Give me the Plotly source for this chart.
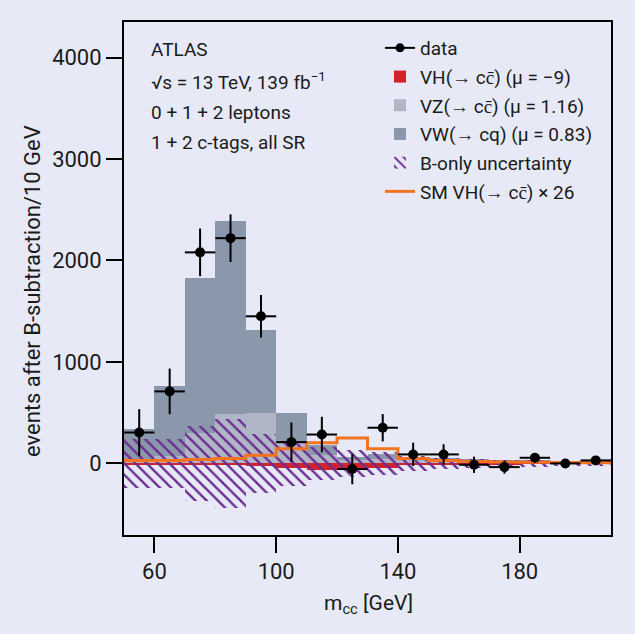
import plotly.graph_objects as go

# ---- data ----
bin_centers = [55, 65, 75, 85, 95, 105, 115, 125, 135, 145, 155, 165, 175, 185, 195, 205]
data_vals = [305, 710, 2080, 2220, 1450, 210, 285, -55, 352, 89, 89, -13, -36, 56, 0, 30]
data_err = [230, 225, 235, 235, 210, 195, 175, 150, 135, 115, 100, 80, 65, 45, 35, 30]
vz_vals = [30, 70, 300, 485, 495, 200, 80, 35, 45, 30, 25, 20, 15, 12, 10, 8]
vw_vals = [310, 698, 1529, 1902, 822, 295, 97, 27, 50, 35, 30, 20, 20, 18, 15, 12]
vh_vals = [-12, -12, -14, -18, -25, -40, -62, -68, -45, -18, -12, -8, -6, -5, -4, -3]
bonly_unc = [245, 245, 370, 440, 295, 220, 165, 135, 115, 70, 55, 40, 35, 30, 28, 25]
sm_vh26 = [30, 30, 40, 50, 80, 146, 205, 250, 144, 50, 30, 20, 15, 12, 10, 8]
bin_width = 10
x_ticks = [60, 100, 140, 180]
y_ticks = [0, 1000, 2000, 3000, 4000]

FONT = "Roboto"
TXT = "#1a1a1a"
BG = "#e7eaf6"
C_VW = "#8b97ab"
C_VZ = "#b0b6c6"
C_VH = "#d42029"
C_SM = "#f47321"
C_HATCH = "#6b2c91"

L, R, T, B = 124, 24, 22, 99
W, H = 635, 634
PW, PH = W - L - R, H - T - B

def px_x(x):
    return (x - L) / PW

def px_y(y):
    return (H - B - y) / PH

fig = go.Figure()

# stacked backgrounds
fig.add_trace(go.Bar(x=bin_centers, y=vz_vals, base=0, width=bin_width,
                     marker=dict(color=C_VZ, line=dict(width=0)),
                     name="VZ(\u2192 cc\u0304) (\u03bc = 1.16)", legendrank=3, legendgroup="g3"))
fig.add_trace(go.Bar(x=bin_centers, y=vw_vals, base=vz_vals, width=bin_width,
                     marker=dict(color=C_VW, line=dict(width=0)),
                     name="VW(\u2192 cq) (\u03bc = 0.83)", legendrank=4, legendgroup="g4"))
fig.add_trace(go.Bar(x=bin_centers, y=vh_vals, base=0, width=bin_width,
                     marker=dict(color=C_VH, line=dict(width=0)),
                     name="VH(\u2192 cc\u0304) (\u03bc = \u22129)", legendrank=2, legendgroup="g2"))

# SM VH x 26 step line
edges = [c - bin_width / 2 for c in bin_centers] + [bin_centers[-1] + bin_width / 2]
fig.add_trace(go.Scatter(x=edges, y=sm_vh26 + [sm_vh26[-1]], mode="lines",
                         line=dict(color=C_SM, width=3, shape="hv"),
                         name="SM VH(\u2192 cc\u0304) \u00d7 26", legendrank=6, legendgroup="g6"))

# B-only uncertainty hatch
fig.add_trace(go.Bar(x=bin_centers, y=[2 * u for u in bonly_unc],
                     base=[-u for u in bonly_unc], width=bin_width,
                     marker=dict(color="rgba(0,0,0,0)", line=dict(width=0),
                                 pattern=dict(shape="\\", fgcolor=C_HATCH, bgcolor="rgba(0,0,0,0)",
                                              size=8, solidity=0.3, fillmode="replace")),
                     name="B-only uncertainty", legendrank=5, legendgroup="g5"))

# data
fig.add_trace(go.Scatter(x=bin_centers, y=data_vals, mode="markers",
                         marker=dict(color="black", size=10),
                         error_y=dict(type="data", array=data_err, color="black", thickness=2, width=0),
                         error_x=dict(type="constant", value=bin_width / 2, color="black", thickness=2, width=0),
                         showlegend=False))
fig.add_trace(go.Scatter(x=[None], y=[None], mode="lines+markers",
                         marker=dict(color="black", size=9), line=dict(color="black", width=2),
                         name="data", legendrank=1, legendgroup="g1"))

texts = ["ATLAS", "\u221as = 13 TeV, 139 fb<sup>\u22121</sup>", "0 + 1 + 2 leptons", "1 + 2 c-tags, all SR"]
ys = [49, 81, 112, 142]
for t, yy in zip(texts, ys):
    fig.add_annotation(text=t, xref="paper", yref="paper", x=px_x(149),
                       y=px_y(yy), xanchor="left", yanchor="middle", showarrow=False,
                       font=dict(family=FONT, size=19, color=TXT))

# axis titles as annotations for exact placement
fig.add_annotation(text="events after B-subtraction/10 GeV", xref="paper", yref="paper",
                   x=px_x(32), y=px_y(291), textangle=-90, showarrow=False,
                   xanchor="center", yanchor="middle",
                   font=dict(family=FONT, size=22, color=TXT))
fig.add_annotation(text="m<sub>cc</sub> [GeV]", xref="paper", yref="paper",
                   x=px_x(368), y=px_y(605), showarrow=False,
                   xanchor="center", yanchor="middle",
                   font=dict(family=FONT, size=21, color=TXT))

axis_common = dict(showline=True, linecolor="black", linewidth=2, mirror=True,
                   ticks="outside", ticklen=16, tickwidth=2, tickcolor="black",
                   showgrid=False, zeroline=False, automargin=False,
                   tickfont=dict(family=FONT, size=22, color=TXT))

fig.update_layout(
    width=W, height=H,
    margin=dict(l=L, r=R, t=T, b=B),
    paper_bgcolor=BG, plot_bgcolor=BG,
    barmode="overlay", bargap=0,
    font=dict(family=FONT, size=19, color=TXT),
    xaxis=dict(range=[50, 210], tickvals=x_ticks, **axis_common),
    yaxis=dict(range=[-705, 4350], tickvals=y_ticks, **axis_common),
    legend=dict(x=px_x(380), y=px_y(29), xanchor="left", yanchor="top",
                bgcolor="rgba(0,0,0,0)", font=dict(family=FONT, size=19, color=TXT),
                traceorder="grouped", tracegroupgap=1, itemwidth=30),
    showlegend=True,
)

fig.write_html("out.html", config={"displayModeBar": False},
               post_script="document.body.style.margin='0px';document.body.style.background='%s';" % BG)
